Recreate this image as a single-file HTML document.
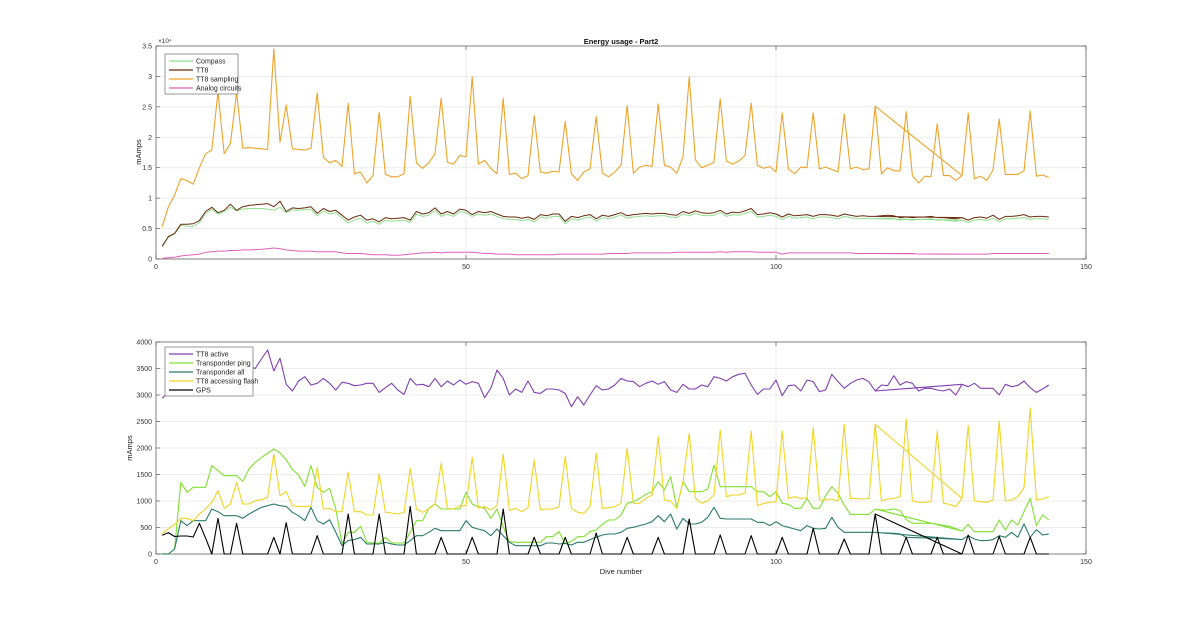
<!DOCTYPE html>
<html><head><meta charset="utf-8"><style>
html,body{margin:0;padding:0;background:#fff;}
svg{display:block;font-family:"Liberation Sans",sans-serif;}
</style></head><body>
<svg id="chart" width="1200" height="622" viewBox="0 0 1200 622" xmlns="http://www.w3.org/2000/svg"></svg>
<script>
// ---------- data (dive 1..144) ----------
const xTicks = [0, 50, 100, 150];
const topYTicks = [0, 0.5, 1, 1.5, 2, 2.5, 3, 3.5];
const topYTickLabels = ["0","0.5","1","1.5","2","2.5","3","3.5"];
const botYTicks = [0,500,1000,1500,2000,2500,3000,3500,4000];
const botYTickLabels = ["0","500","1000","1500","2000","2500","3000","3500","4000"];

// top chart (units of 1e4 mAmps)
const tt8Sampling = [0.53,0.86,1.05,1.32,1.29,1.23,1.5,1.73,1.79,2.75,1.73,1.9,2.73,1.82,1.83,1.82,1.81,1.8,3.45,1.92,2.53,1.81,1.8,1.79,1.82,2.73,1.67,1.58,1.62,1.52,2.56,1.4,1.43,1.25,1.37,2.41,1.39,1.35,1.35,1.4,2.67,1.58,1.49,1.58,1.73,2.64,1.59,1.56,1.7,1.68,2.99,1.56,1.62,1.49,1.4,2.64,1.39,1.41,1.32,1.37,2.36,1.43,1.41,1.44,1.43,2.26,1.4,1.29,1.43,1.48,2.34,1.41,1.35,1.43,1.54,2.52,1.41,1.51,1.54,1.52,2.55,1.54,1.51,1.41,1.68,2.99,1.63,1.5,1.54,1.59,2.63,1.61,1.56,1.61,1.7,2.56,1.54,1.49,1.52,1.43,2.4,1.48,1.4,1.51,1.5,2.4,1.48,1.51,1.47,1.43,2.38,1.48,1.51,1.47,1.48,2.51,1.4,1.5,1.45,1.45,2.42,1.37,1.25,1.36,1.35,2.22,1.37,1.37,1.29,1.37,2.4,1.32,1.36,1.29,1.46,2.3,1.39,1.39,1.39,1.45,2.43,1.36,1.38,1.34];
const tt8 = [0.21,0.37,0.42,0.57,0.57,0.58,0.63,0.78,0.85,0.76,0.8,0.9,0.8,0.86,0.88,0.89,0.9,0.91,0.86,0.95,0.78,0.84,0.83,0.84,0.86,0.75,0.83,0.78,0.8,0.72,0.64,0.69,0.72,0.64,0.66,0.61,0.68,0.66,0.67,0.68,0.64,0.78,0.74,0.76,0.84,0.74,0.78,0.74,0.82,0.8,0.73,0.78,0.76,0.78,0.74,0.7,0.69,0.69,0.67,0.69,0.65,0.73,0.71,0.74,0.74,0.62,0.7,0.68,0.71,0.73,0.66,0.72,0.7,0.73,0.76,0.71,0.73,0.74,0.75,0.74,0.75,0.75,0.73,0.72,0.78,0.75,0.79,0.76,0.75,0.76,0.8,0.74,0.77,0.76,0.79,0.83,0.73,0.74,0.76,0.74,0.69,0.74,0.71,0.72,0.73,0.7,0.73,0.73,0.72,0.7,0.74,0.72,0.7,0.71,0.7,0.7,0.71,0.72,0.71,0.68,0.69,0.68,0.69,0.69,0.7,0.68,0.68,0.67,0.66,0.68,0.64,0.68,0.69,0.67,0.72,0.65,0.7,0.7,0.71,0.73,0.69,0.7,0.7,0.69];
const compass = [0.2,0.36,0.41,0.55,0.54,0.53,0.6,0.75,0.82,0.74,0.78,0.85,0.79,0.82,0.83,0.83,0.83,0.82,0.8,0.85,0.76,0.81,0.8,0.81,0.82,0.71,0.79,0.74,0.76,0.68,0.59,0.64,0.67,0.59,0.62,0.57,0.64,0.62,0.63,0.64,0.6,0.74,0.7,0.72,0.8,0.7,0.74,0.7,0.78,0.76,0.7,0.74,0.72,0.74,0.7,0.66,0.65,0.65,0.63,0.65,0.61,0.69,0.67,0.7,0.7,0.58,0.66,0.64,0.67,0.69,0.62,0.68,0.66,0.69,0.72,0.67,0.69,0.7,0.71,0.7,0.71,0.71,0.69,0.68,0.74,0.71,0.75,0.72,0.71,0.72,0.76,0.7,0.73,0.72,0.75,0.78,0.69,0.7,0.72,0.7,0.65,0.7,0.67,0.68,0.69,0.66,0.69,0.69,0.68,0.66,0.7,0.68,0.66,0.67,0.66,0.66,0.67,0.67,0.66,0.64,0.65,0.64,0.65,0.65,0.66,0.64,0.64,0.63,0.62,0.64,0.6,0.64,0.65,0.63,0.67,0.61,0.66,0.66,0.67,0.68,0.65,0.66,0.66,0.65];
const analog = [0.01,0.02,0.03,0.05,0.06,0.07,0.08,0.11,0.12,0.13,0.13,0.14,0.14,0.15,0.15,0.155,0.16,0.17,0.18,0.17,0.15,0.14,0.13,0.13,0.13,0.12,0.12,0.12,0.12,0.1,0.09,0.09,0.09,0.08,0.07,0.07,0.07,0.06,0.06,0.07,0.08,0.09,0.1,0.1,0.11,0.1,0.11,0.11,0.11,0.11,0.11,0.1,0.09,0.09,0.08,0.08,0.08,0.07,0.07,0.07,0.07,0.07,0.07,0.07,0.08,0.08,0.08,0.08,0.08,0.08,0.08,0.08,0.09,0.09,0.09,0.09,0.1,0.1,0.1,0.1,0.1,0.1,0.1,0.11,0.11,0.11,0.11,0.11,0.11,0.11,0.12,0.11,0.12,0.12,0.12,0.12,0.11,0.11,0.11,0.11,0.08,0.1,0.1,0.1,0.1,0.1,0.1,0.1,0.1,0.1,0.1,0.1,0.09,0.09,0.09,0.09,0.09,0.09,0.09,0.09,0.09,0.09,0.08,0.08,0.08,0.08,0.08,0.08,0.08,0.08,0.08,0.08,0.08,0.08,0.09,0.09,0.09,0.09,0.09,0.09,0.09,0.09,0.09,0.09];

// bottom chart (mAmps)
const tt8Active = [2940,3050,3150,3200,3250,3300,3350,3400,3450,3500,3550,3600,3650,3600,3550,3500,3680,3849,3453,3692,3201,3075,3264,3346,3189,3220,3314,3220,3094,3239,3220,3176,3189,3220,3220,3050,3138,3220,3094,3012,3314,3189,3201,3157,3314,3157,3264,3189,3283,3201,3252,3220,2949,3126,3472,3314,3000,3113,3050,3264,3050,3031,3113,3113,3094,3031,2780,2968,2811,3000,3176,3094,3113,3189,3314,3264,3252,3157,3220,3264,3201,3252,3094,3050,3201,3113,3113,3189,3157,3346,3314,3264,3346,3390,3409,3189,3012,3113,3113,3283,2987,3176,3189,3075,3283,3252,3063,3094,3390,3252,3126,3220,3283,3314,3250,3075,3189,3176,3365,3189,3252,3220,3075,3126,3126,3094,3075,3113,3000,3201,3157,3220,3126,3126,3126,3000,3201,3157,3180,3264,3138,3050,3113,3189];
const transponderPing = [10,0,94,1352,1164,1258,1258,1258,1667,1572,1478,1478,1478,1371,1604,1730,1820,1900,1981,1906,1780,1591,1491,1277,1667,1258,1164,1239,849,189,409,409,522,220,208,208,315,208,208,208,409,629,629,862,943,849,849,849,849,1164,943,893,862,673,849,516,233,220,220,220,220,220,327,327,421,195,239,327,327,421,453,560,641,641,736,956,987,1050,1126,1176,1365,1208,1459,874,1365,1176,1176,1176,1226,1679,1270,1270,1270,1270,1270,1270,1176,1176,1082,1176,956,937,862,862,1050,862,862,1100,1270,1145,925,748,748,748,748,849,830,830,850,820,650,580,580,580,580,560,540,520,480,434,560,421,421,421,421,641,453,641,547,798,1050,535,736,641];
const transponderAll = [0,0,94,629,535,629,629,629,849,799,723,723,723,673,755,818,881,912,943,912,899,786,723,629,881,629,566,648,409,157,252,271,315,189,189,189,220,189,170,170,252,346,346,409,484,440,440,440,440,629,503,470,440,346,472,346,220,157,157,157,157,157,208,208,189,200,170,220,220,271,315,359,377,377,409,484,503,535,566,610,723,610,755,472,673,566,566,598,692,881,673,660,660,660,660,660,598,598,535,610,535,503,472,440,535,484,472,484,692,503,409,409,409,409,409,409,400,395,390,380,315,310,305,305,300,300,290,285,280,271,346,283,252,252,271,346,315,409,315,566,315,459,359,380];
const tt8Flash = [384,478,560,673,673,629,755,849,975,1195,862,943,1352,943,943,1006,1025,1069,1887,1101,1176,912,899,899,899,1635,849,862,799,799,1541,799,799,736,736,1509,786,774,755,786,1616,849,786,849,943,1717,862,849,912,912,1824,870,893,830,912,1881,818,862,799,874,1774,830,849,849,893,1837,862,786,767,893,1900,862,874,893,956,1994,956,956,1050,1113,2214,1019,1000,862,1365,2277,1050,956,1000,1113,2340,1082,1113,1113,1145,2321,912,956,975,987,2321,1050,1082,1050,1063,2384,1019,1019,1038,1000,2447,1050,1050,1038,1050,2447,1000,1038,1050,1082,2547,1000,975,975,987,2321,956,937,893,1050,2422,1000,987,975,1019,2510,1000,1019,1082,1252,2755,1019,1038,1082];
const gps = [352,403,330,340,340,320,579,300,0,673,0,0,579,0,0,0,0,0,315,0,591,0,0,0,0,346,0,0,0,0,755,0,0,0,0,755,0,0,0,0,899,0,0,0,0,315,0,0,0,0,315,0,0,0,0,849,0,0,0,0,315,0,0,0,0,315,0,0,0,0,396,0,0,0,0,315,0,0,0,0,315,0,0,0,0,660,0,0,0,0,359,0,0,0,0,346,0,0,0,0,315,0,0,0,0,484,0,0,0,0,283,0,0,0,0,755,0,0,0,0,315,0,0,0,0,315,0,0,0,0,359,0,0,0,0,333,0,0,0,0,315,0,0,0];

// plotting order: dives 1..130, then the log restarts at dive 116 and runs to 144
const order = [];
for (let d = 1; d <= 130; d++) order.push(d);
for (let d = 116; d <= 144; d++) order.push(d);

// ---------- drawing ----------
const NS = "http://www.w3.org/2000/svg";
const svg = document.getElementById("chart");
function mk(tag, attrs, parent){
  const e = document.createElementNS(NS, tag);
  for (const k in attrs) e.setAttribute(k, attrs[k]);
  (parent || svg).appendChild(e);
  return e;
}
const X0 = 156, X1 = 1086;
const xScale = v => X0 + (v / 150) * (X1 - X0);

function drawAxes(g, yT, yLabels, yMax, top, bot, name){
  const yScale = v => bot - (v / yMax) * (bot - top);
  // grid
  yT.forEach((t,i) => {
    const ln = mk("line", {x1:X0, x2:X1, y1:yScale(t), y2:yScale(t), stroke:"#e6e6e6", "stroke-width":0.8}, g);
    
    
    const tl = mk("text", {x:X0-4, y:yScale(t)+2.5, "text-anchor":"end", "font-size":7, fill:"#333"}, g);
    
    
    tl.textContent = yLabels[i];
    mk("line", {x1:X0, x2:X0+4, y1:yScale(t), y2:yScale(t), stroke:"#444", "stroke-width":0.6}, g);
    mk("line", {x1:X1, x2:X1-4, y1:yScale(t), y2:yScale(t), stroke:"#444", "stroke-width":0.6}, g);
  });
  xTicks.forEach(t => {
    const ln = mk("line", {x1:xScale(t), x2:xScale(t), y1:top, y2:bot, stroke:"#e6e6e6", "stroke-width":0.8}, g);
    
    
    mk("line", {x1:xScale(t), x2:xScale(t), y1:bot, y2:bot-4, stroke:"#444", "stroke-width":0.6}, g);
    mk("line", {x1:xScale(t), x2:xScale(t), y1:top, y2:top+4, stroke:"#444", "stroke-width":0.6}, g);
    const tl = mk("text", {x:xScale(t), y:bot+10, "text-anchor":"middle", "font-size":7, fill:"#333"}, g);
    
    
    tl.textContent = String(t);
  });
  const box = mk("rect", {x:X0, y:top, width:X1-X0, height:bot-top, fill:"none", stroke:"#555", "stroke-width":0.7}, g);
  
  
  return yScale;
}

function drawSeries(g, vals, yScale, color, name, w){
  const pts = order.map(d => xScale(d).toFixed(1) + "," + yScale(vals[d-1]).toFixed(1)).join(" ");
  const pl = mk("polyline", {points:pts, fill:"none", stroke:color, "stroke-width":w||1, "stroke-linejoin":"round"}, g);
  
  
}

function drawLegend(g, entries, x, y, w, name){
  const h = entries.length * 9 + 4;
  const r = mk("rect", {x:x, y:y, width:w, height:h, fill:"#fff", stroke:"#555", "stroke-width":0.6}, g);
  
  
  entries.forEach((e,i) => {
    const yy = y + 7 + i*9;
    const ln = mk("line", {x1:x+4, x2:x+28, y1:yy, y2:yy, stroke:e[1], "stroke-width":1.3}, g);
    
    
    const t = mk("text", {x:x+31, y:yy+2.5, "font-size":7, fill:"#222"}, g);
    
    
    t.textContent = e[0];
  });
}

// ----- top axes -----
const gTop = mk("g", {});


const yTop = drawAxes(gTop, topYTicks, topYTickLabels, 3.5, 46, 259, "top");
const cTop = {compass:"#90e090", tt8:"#6a2a10", samp:"#eda32a", analog:"#e060b8"};
drawSeries(gTop, tt8Sampling, yTop, cTop.samp, "tt8-sampling-line", 1.1);
drawSeries(gTop, compass, yTop, cTop.compass, "compass-line", 1);
drawSeries(gTop, tt8, yTop, cTop.tt8, "tt8-line", 1);
drawSeries(gTop, analog, yTop, cTop.analog, "analog-circuits-line", 1);
drawLegend(gTop, [["Compass",cTop.compass],["TT8",cTop.tt8],["TT8 sampling",cTop.samp],["Analog circuits",cTop.analog]], 165, 54, 73, "top-legend");
const exp = mk("text", {x:158, y:43, "font-size":6.5, fill:"#333"}, gTop);


exp.textContent = "×10⁴";
const title = mk("text", {x:621, y:44, "text-anchor":"middle", "font-size":7.5, "font-weight":"bold", fill:"#111"}, gTop);


title.textContent = "Energy usage - Part2";
const yl1 = mk("text", {x:0, y:0, "text-anchor":"middle", "font-size":7.5, fill:"#222", transform:"translate(141,152) rotate(-90)"}, gTop);


yl1.textContent = "mAmps";

// ----- bottom axes -----
const gBot = mk("g", {});


const yBot = drawAxes(gBot, botYTicks, botYTickLabels, 4000, 342, 554, "bottom");
const cBot = {active:"#8040b0", ping:"#80e030", all:"#2a7a6a", flash:"#f0d424", gps:"#000000"};
drawSeries(gBot, tt8Active, yBot, cBot.active, "tt8-active-line", 1.1);
drawSeries(gBot, transponderPing, yBot, cBot.ping, "transponder-ping-line", 1.1);
drawSeries(gBot, transponderAll, yBot, cBot.all, "transponder-all-line", 1.1);
drawSeries(gBot, tt8Flash, yBot, cBot.flash, "tt8-accessing-flash-line", 1.1);
drawSeries(gBot, gps, yBot, cBot.gps, "gps-line", 1.1);
drawLegend(gBot, [["TT8 active",cBot.active],["Transponder ping",cBot.ping],["Transponder all",cBot.all],["TT8 accessing flash",cBot.flash],["GPS",cBot.gps]], 165, 347, 88, "bottom-legend");
const yl2 = mk("text", {x:0, y:0, "text-anchor":"middle", "font-size":7.5, fill:"#222", transform:"translate(132,448) rotate(-90)"}, gBot);


yl2.textContent = "mAmps";
const xl = mk("text", {x:621, y:574, "text-anchor":"middle", "font-size":7.5, fill:"#222"}, gBot);


xl.textContent = "Dive number";
</script>
</body></html>
